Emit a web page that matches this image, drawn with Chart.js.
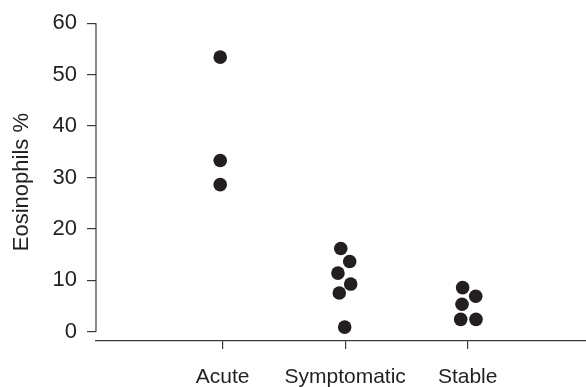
<!DOCTYPE html>
<html>
<head>
<meta charset="utf-8">
<script src="https://cdn.jsdelivr.net/npm/chart.js@4/dist/chart.umd.min.js"></script>
<style>
  html, body { margin: 0; padding: 0; background: #fff; }
  #wrap { width: 586px; height: 387px; }
</style>
</head>
<body>
<div id="wrap"><canvas id="c" width="586" height="387"></canvas></div>
<script>
const categories = ['Acute', 'Symptomatic', 'Stable'];
const yTicks = [0, 10, 20, 30, 40, 50, 60];
const acuteValues = [53.4, 33.3, 28.6];
const acuteJitter = [-0.02, -0.02, -0.02];
const symptomaticValues = [16.2, 13.65, 11.4, 9.27, 7.53, 0.9];
const symptomaticJitter = [-0.036, 0.037, -0.059, 0.045, -0.048, -0.004];
const stableValues = [8.57, 6.9, 5.35, 2.4, 2.4];
const stableJitter = [-0.041, 0.066, -0.046, -0.057, 0.068];

const groups = [
  { values: acuteValues, jitter: acuteJitter },
  { values: symptomaticValues, jitter: symptomaticJitter },
  { values: stableValues, jitter: stableJitter }
];
const points = [];
groups.forEach((g, gi) => {
  g.values.forEach((v, i) => points.push({ x: gi + 1 + g.jitter[i], y: v }));
});

const ink = '#231f20';
const fontFamily = "'Liberation Sans', Arial, sans-serif";

const yAxisLine = {
  id: 'yAxisLine',
  afterDraw(chart) {
    const y = chart.scales.y;
    const ctx = chart.ctx;
    ctx.save();
    ctx.strokeStyle = '#3a3a3a';
    ctx.lineWidth = 1.2;
    ctx.beginPath();
    ctx.moveTo(y.right, y.getPixelForValue(yTicks[0]));
    ctx.lineTo(y.right, y.getPixelForValue(yTicks[yTicks.length - 1]));
    ctx.stroke();
    ctx.restore();
  }
};

new Chart(document.getElementById('c'), {
  type: 'scatter',
  data: {
    datasets: [{
      data: points,
      backgroundColor: ink,
      borderColor: ink,
      pointRadius: 6.8,
      pointHoverRadius: 6.8,
      borderWidth: 0,
      clip: false
    }]
  },
  options: {
    responsive: false,
    animation: false,
    events: [],
    layout: { autoPadding: false, padding: { top: 21, left: 0, right: 0, bottom: 0 } },
    plugins: { legend: { display: false }, tooltip: { enabled: false } },
    scales: {
      x: {
        type: 'linear',
        min: -0.034,
        max: 3.966,
        afterBuildTicks: s => { s.ticks = categories.map((c, i) => ({ value: i + 1 })); },
        afterFit: s => { s.height = 46; },
        ticks: {
          autoSkip: false,
          maxRotation: 0,
          padding: 16,
          color: ink,
          font: { family: fontFamily, size: 21 },
          callback: (v) => categories[Math.round(v) - 1]
        },
        grid: { drawOnChartArea: false, drawTicks: true, tickLength: 8, color: '#3a3a3a', lineWidth: 1.2 },
        border: { display: true, color: '#3a3a3a', width: 1.2 }
      },
      y: {
        type: 'linear',
        min: -1.8,
        max: 60,
        afterBuildTicks: s => { s.ticks = yTicks.map(v => ({ value: v })); },
        afterFit: s => { s.width = 96; },
        ticks: {
          padding: 10,
          color: ink,
          font: { family: fontFamily, size: 22 }
        },
        grid: { drawOnChartArea: false, drawTicks: true, tickLength: 9, color: '#3a3a3a', lineWidth: 1.2 },
        border: { display: false },
        title: {
          display: true,
          text: 'Eosinophils %',
          color: ink,
          font: { family: fontFamily, size: 22 },
          padding: { top: 9, bottom: 0 }
        }
      }
    }
  },
  plugins: [yAxisLine]
});
</script>
</body>
</html>
